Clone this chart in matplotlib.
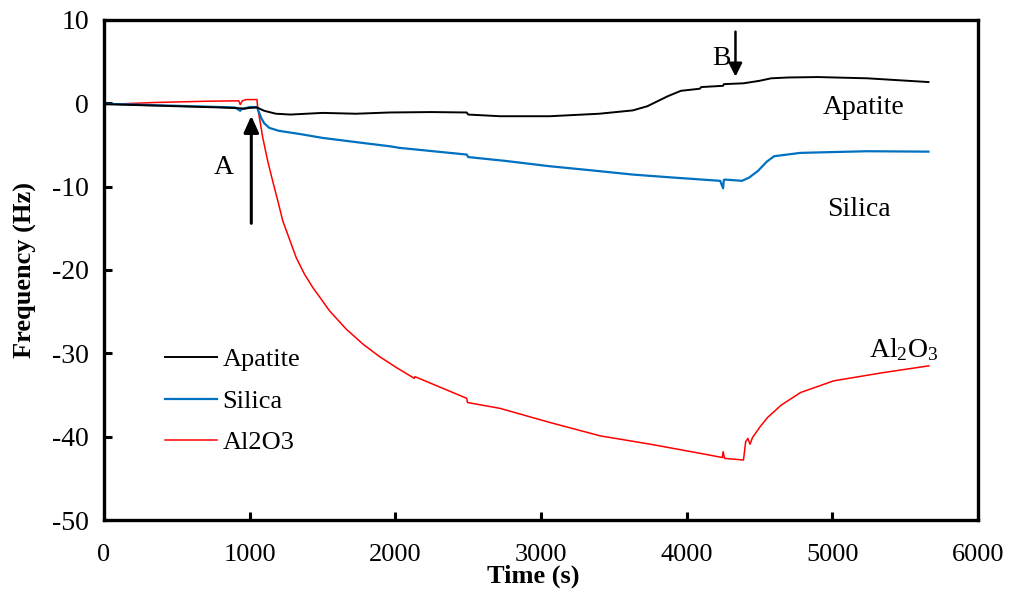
import matplotlib
matplotlib.use("Agg")
import matplotlib.pyplot as plt

plt.rcParams['font.family'] = ['Liberation Serif', 'DejaVu Serif']
plt.rcParams['mathtext.fontset'] = 'custom'
plt.rcParams['mathtext.rm'] = 'Liberation Serif'
plt.rcParams['mathtext.it'] = 'Liberation Serif:italic'
plt.rcParams['axes.unicode_minus'] = False

# Frequency shift (Hz) versus time (s) for the three coated sensors
apatite_t = [0, 200, 500, 800, 940, 960, 1000, 1050, 1100, 1180, 1280, 1500, 1730,
             1960, 2250, 2490, 2500, 2720, 3060, 3400, 3630, 3730, 3870, 3960, 4090,
             4100, 4250, 4255, 4390, 4500, 4580, 4700, 4900, 5240, 5660]
apatite_f = [-0.1, -0.2, -0.35, -0.5, -0.6, -0.65, -0.55, -0.5, -0.9, -1.25, -1.35,
             -1.15, -1.25, -1.1, -1.05, -1.1, -1.35, -1.55, -1.55, -1.25, -0.85, -0.35,
             0.85, 1.5, 1.75, 1.95, 2.1, 2.3, 2.4, 2.7, 3.0, 3.1, 3.15, 3.0, 2.55]

silica_t = [0, 300, 600, 900, 935, 945, 1000, 1050, 1060, 1080, 1100, 1135, 1200, 1350,
            1500, 1750, 1960, 2030, 2490, 2500, 2750, 3060, 3350, 3630, 3900, 4230, 4250,
            4255, 4262, 4380, 4430, 4490, 4550, 4600, 4780, 5000, 5240, 5660]
silica_f = [-0.05, -0.2, -0.35, -0.5, -0.9, -0.7, -0.45, -0.45, -0.9, -1.8, -2.4,
            -2.95, -3.3, -3.7, -4.15, -4.7, -5.15, -5.35, -6.15, -6.45, -6.9, -7.55,
            -8.05, -8.55, -8.9, -9.3, -10.2, -9.2, -9.15, -9.3, -8.9, -8.1, -7.0, -6.35,
            -5.95, -5.85, -5.75, -5.8]

al2o3_t = [0, 350, 700, 925, 935, 950, 975, 1050, 1055, 1067, 1090, 1124, 1158, 1193,
           1227, 1273, 1319, 1376, 1433, 1491, 1548, 1663, 1778, 1892, 2007, 2130, 2135,
           2490, 2495, 2718, 3062, 3406, 3750, 4094, 4245, 4250, 4260, 4390, 4405, 4420,
           4435, 4452, 4500, 4555, 4650, 4782, 5009, 5353, 5663]
al2o3_f = [-0.15, 0.1, 0.25, 0.3, -0.15, 0.3, 0.45, 0.45, -0.56, -1.76, -4.15, -6.95,
           -9.34, -11.7, -14.1, -16.3, -18.5, -20.5, -22.1, -23.5, -24.9, -27.1, -28.9,
           -30.4, -31.7, -33.0, -32.8, -35.4, -35.9, -36.6, -38.3, -39.9, -40.9, -42.0,
           -42.5, -41.8, -42.6, -42.8, -40.6, -40.2, -40.9, -40.1, -38.9, -37.7, -36.2,
           -34.7, -33.3, -32.3, -31.5]

x_ticks = [0, 1000, 2000, 3000, 4000, 5000, 6000]
y_ticks = [10, 0, -10, -20, -30, -40, -50]

fig = plt.figure(figsize=(10.12, 5.89), dpi=100)
ax = fig.add_axes([0.1028, 0.1171, 0.8636, 0.849])

ax.plot(apatite_t, apatite_f, color='black', lw=1.4, label='Apatite', zorder=3)
ax.plot(silica_t, silica_f, color='#0070C0', lw=1.6, label='Silica', zorder=2)
ax.plot(al2o3_t, al2o3_f, color='#FF0000', lw=1.1, label='Al2O3', zorder=1)

ax.set_xlim(0, 6000)
ax.set_ylim(-50, 10)
ax.set_xticks(x_ticks)
ax.set_yticks(y_ticks)
ax.tick_params(axis='both', direction='in', length=6, width=2.2,
               top=False, right=False)
ax.tick_params(axis='x', labelsize=19, pad=17)
ax.tick_params(axis='y', labelsize=20, pad=11)
for sp in ax.spines.values():
    sp.set_linewidth(2.4)

ax.set_xlabel('Time (s)', fontsize=19, fontweight='bold', va='top')
ax.xaxis.set_label_coords(0.491, -0.089)
ax.set_ylabel('Frequency (Hz)', fontsize=19, fontweight='bold')
ax.yaxis.set_label_coords(-0.077, 0.5)

# Arrows marking the injection (A) and rinse (B) steps
ax.annotate('', xy=(1011, -1.5), xytext=(1011, -14.4),
            arrowprops=dict(arrowstyle='-|>,head_length=1.0,head_width=0.45',
                            color='black', lw=2.2, shrinkA=0, shrinkB=0))
ax.text(819, -7.7, 'A', fontsize=20, ha='center', va='center')
ax.annotate('', xy=(4335, 3.2), xytext=(4335, 8.6),
            arrowprops=dict(arrowstyle='-|>,head_length=0.8,head_width=0.4',
                            color='black', lw=1.8, shrinkA=0, shrinkB=0))
ax.text(4240, 5.4, 'B', fontsize=20, ha='center', va='center')

ax.text(5216, -0.5, 'Apatite', fontsize=20, ha='center', va='center')
ax.text(5181, -12.7, 'Silica', fontsize=20, ha='center', va='center')
ax.text(5490, -29.5, r'Al$_2$O$_3$', fontsize=20, ha='center', va='center')

leg = ax.legend(loc='upper left', bbox_to_anchor=(165 / 1012, 1 - 348 / 589),
                bbox_transform=fig.transFigure, frameon=False, fontsize=19,
                handlelength=1.97, handletextpad=0.2, labelspacing=0.68,
                borderpad=0, borderaxespad=0)

fig.savefig('out.png', dpi=100)
